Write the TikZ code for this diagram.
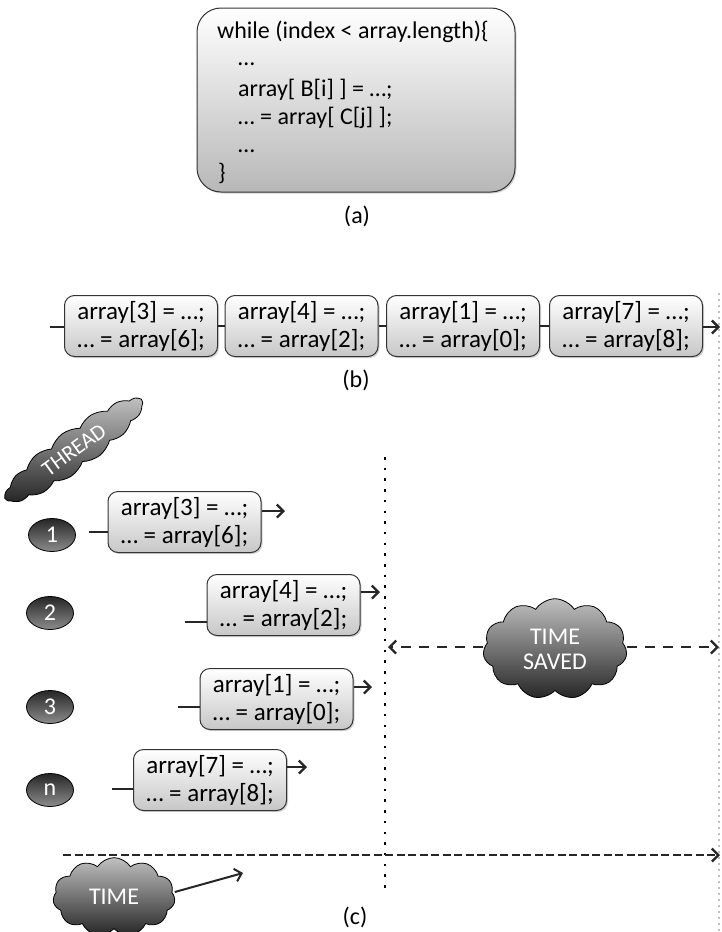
\documentclass[tikz,border=0pt]{standalone}
\usepackage{fontspec}
\setmainfont{Carlito}
\usetikzlibrary{arrows.meta,shapes.geometric,shapes.symbols,shadows}

\begin{document}
\begin{tikzpicture}[x=1pt, y=-1pt, font=\fontsize{24}{28}\selectfont,
  codebox/.style={draw=black!80, line width=1pt, rounded corners=10pt,
    minimum width=153pt, minimum height=61pt, inner sep=0pt, align=center,
    top color=white, bottom color=black!22, font=\fontsize{25}{28}\selectfont,
    drop shadow={shadow xshift=1.5pt, shadow yshift=-1.5pt, opacity=0.35}},
  thread/.style={ellipse, draw=black, line width=0.8pt, minimum width=47pt,
    minimum height=33pt, inner sep=0pt, text=white,
    top color=black!85, bottom color=black!45},
  puff/.style={cloud, cloud puffs=11, cloud puff arc=115, draw=black,
    line width=0.8pt, inner sep=0pt, text=white, align=center,
    top color=black!25, bottom color=black!85},
  link/.style={line width=2.3pt, black!85},
  linkto/.style={link, -{Straight Barb[length=6.5pt, width=13pt]}},
  gap/.style={linkto, dash pattern=on 10pt off 8pt},
  caption/.style={inner sep=0pt}]

  \useasboundingbox (0,0) rectangle (721,932);

  % (a) the loop
  \node[codebox, minimum width=318pt, minimum height=184pt,
    rounded corners=24pt, top color=white, bottom color=black!28]
    (loop) at (356,100) {};
  \node[anchor=base west, inner sep=0pt] (l1) at (217,38)
    {while (index < array.length)\{};
  \node[anchor=base west, inner sep=0pt] (l2) at (238,65) {…};
  \node[anchor=base west, inner sep=0pt] (l3) at (238,96)
    {array[ B[i] ] = …;};
  \node[anchor=base west, inner sep=0pt] (l4) at (238,124)
    {… = array[ C[j] ];};
  \node[anchor=base west, inner sep=0pt] (l5) at (238,152) {…};
  \node[anchor=base west, inner sep=0pt] (l6) at (218,180) {\}};
  \node[caption] (capa) at (357,216) {(a)};

  % (b) sequential run
  \node[codebox] (b1) at (141,326) {array[3] = …;\\… = array[6];};
  \node[codebox] (b2) at (301.5,326) {array[4] = …;\\… = array[2];};
  \node[codebox] (b3) at (463,326) {array[1] = …;\\… = array[0];};
  \node[codebox] (b4) at (626,326) {array[7] = …;\\… = array[8];};
  \coordinate (bin) at (50,327);
  \coordinate (bout) at (720,327);
  \draw[link] (bin) -- (b1.west |- bin);
  \draw[link] (b1) -- (b2);
  \draw[link] (b2) -- (b3);
  \draw[link] (b3) -- (b4);
  \draw[linkto] (b4.east |- bout) -- (bout);
  \node[caption] (capb) at (356,380) {(b)};

  % right time limit
  \coordinate (rtop) at (719,293);
  \coordinate (rbot) at (719,932);
  \draw[black!25, line width=1.5pt, dash pattern=on 2pt off 4pt] (rtop) -- (rbot);

  % (c) parallel run
  \node[puff, rotate=36, cloud puffs=15, cloud puff arc=75,
    cloud ignores aspect, minimum width=168pt, minimum height=40pt,
    font=\fontsize{22}{24}\selectfont] (thr) at (74,450) {THREAD};

  \node[thread] (c1) at (52,535) {1};
  \node[thread] (c2) at (50,613) {2};
  \node[thread] (c3) at (50,707) {3};
  \node[thread] (cn) at (50,790) {n};

  \node[codebox] (t1) at (184.5,522) {array[3] = …;\\… = array[6];};
  \node[codebox] (t2) at (283.5,605) {array[4] = …;\\… = array[2];};
  \node[codebox] (t3) at (276.5,699) {array[1] = …;\\… = array[0];};
  \node[codebox] (tn) at (210,780) {array[7] = …;\\… = array[8];};

  \coordinate (t1in) at (89,532);   \coordinate (t1out) at (285,511);
  \coordinate (t2in) at (185,622);  \coordinate (t2out) at (380,592);
  \coordinate (t3in) at (178,707);  \coordinate (t3out) at (372,687);
  \coordinate (tnin) at (112,789);  \coordinate (tnout) at (307,767);
  \foreach \t in {t1,t2,t3,tn} {
    \draw[link] (\t in) -- (\t.west |- \t in);
    \draw[linkto] (\t.east |- \t out) -- (\t out);
  }

  % end of parallel run
  \coordinate (dtop) at (385,457);
  \coordinate (dbot) at (385,894);
  \draw[line width=2.5pt, dash pattern=on 2.5pt off 8.2pt] (dtop) -- (dbot);

  \node[puff, minimum width=144pt, minimum height=72pt] (saved) at (555,649)
    {TIME\\[-3pt]SAVED};
  \coordinate (sl) at (388,647);
  \coordinate (sr) at (719,647);
  \draw[gap] (saved.west |- sl) -- (sl);
  \draw[gap] (saved.east |- sr) -- (sr);

  % time axis
  \coordinate (ax0) at (63,855);
  \coordinate (ax1) at (720,855);
  \draw[linkto, dash pattern=on 8pt off 3.5pt] (ax0) -- (ax1);
  \node[puff, minimum width=122pt, minimum height=70pt] (time) at (114,897) {TIME};
  \coordinate (timeto) at (243,873);
  \draw[linkto, line width=2pt] (time.east) ++(0,-5) -- (timeto);
  \node[caption] (capc) at (355,917) {(c)};
\end{tikzpicture}
\end{document}
